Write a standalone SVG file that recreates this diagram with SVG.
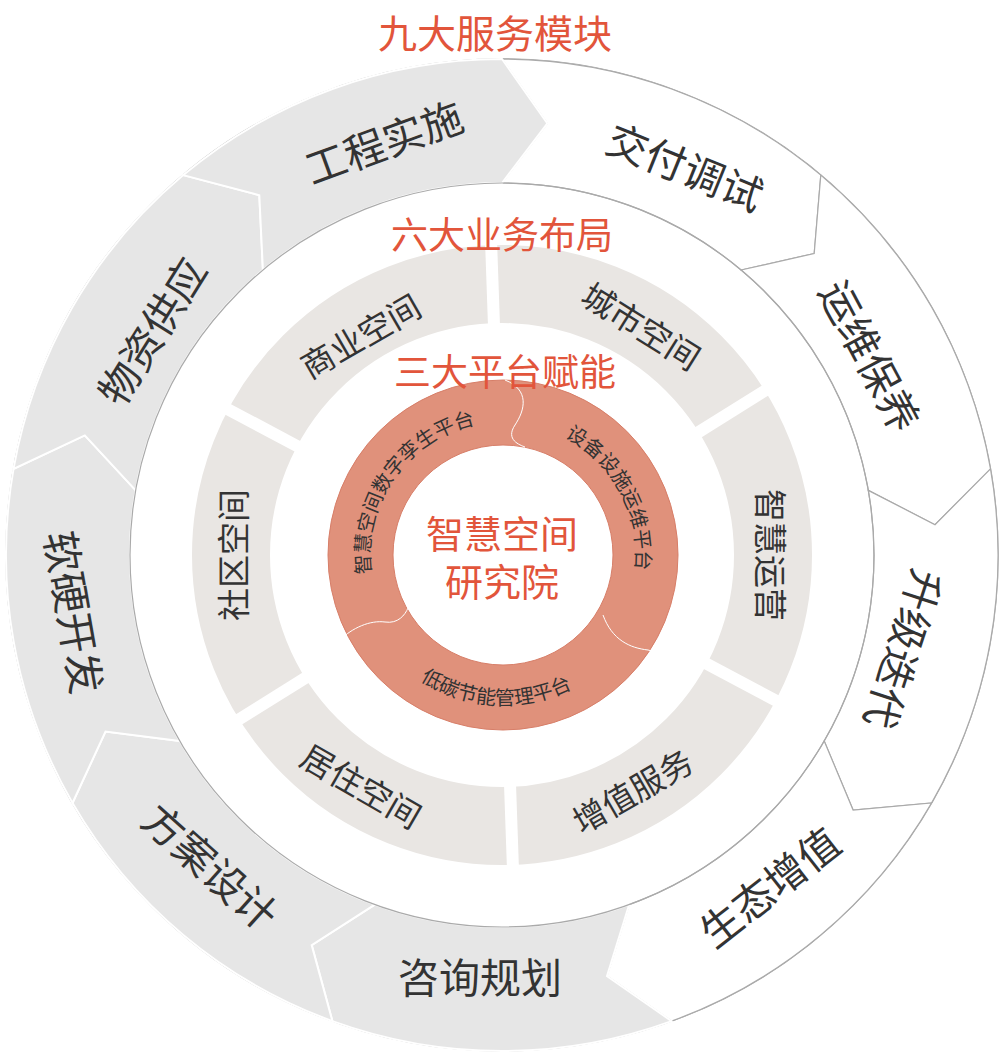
<svg xmlns="http://www.w3.org/2000/svg" width="1000" height="1055" viewBox="0 0 1000 1055">
<style>
.t{font-family:"Noto Sans CJK SC","Noto Sans",sans-serif;text-anchor:middle;dominant-baseline:central}
.ol{font-size:41px;fill:#333}
.ml{font-size:33px;fill:#333}
.pl{font-size:20px;fill:#333;font-family:"Noto Sans CJK SC",sans-serif}
.ti{fill:#e2553b}
.g{fill:#e6e6e6;stroke:#fff;stroke-width:2}
.w{fill:#fff;stroke:#aaa;stroke-width:1.2}
</style>
<defs>
<path id="pa" d="M401.1,640.5 A133,133 0 0 1 548.5,430"/>
<path id="pb" d="M473.1,425.4 A133,133 0 0 1 593.7,652.3"/>
<path id="pc" d="M356.3,586.2 A150,150 0 0 0 645.7,601.4"/>
</defs>
<rect width="1000" height="1055" fill="#fff"/>
<g id="outer">
<circle cx="502" cy="555" r="496" fill="#fff" stroke="#aaa" stroke-width="1.5"/>
<path id="s0" class="w" d="M502,183 L547.4,123.4 L502,59 A496,496 0 0 1 820.8,175.1 L814.2,253.5 L741.1,270 A372,372 0 0 0 502,183 Z"/>
<path id="s1" class="w" d="M741.1,270 L814.2,253.5 L820.8,175.1 A496,496 0 0 1 990.5,468.9 L935,524.7 L868.3,490.4 A372,372 0 0 0 741.1,270 Z"/>
<path id="s2" class="w" d="M868.3,490.4 L935,524.7 L990.5,468.9 A496,496 0 0 1 931.5,803 L853.1,810.1 L824.2,741 A372,372 0 0 0 868.3,490.4 Z"/>
<path id="s3" class="w" d="M824.2,741 L853.1,810.1 L931.5,803 A496,496 0 0 1 671.6,1021.1 L607,976.1 L629.2,904.6 A372,372 0 0 0 824.2,741 Z"/>
<path id="s4" class="g" d="M629.2,904.6 L607,976.1 L671.6,1021.1 A496,496 0 0 1 332.4,1021.1 L311.7,945.1 L374.8,904.6 A372,372 0 0 0 629.2,904.6 Z"/>
<path id="s5" class="g" d="M374.8,904.6 L311.7,945.1 L332.4,1021.1 A496,496 0 0 1 72.5,803 L105.5,731.5 L179.8,741 A372,372 0 0 0 374.8,904.6 Z"/>
<path id="s6" class="g" d="M179.8,741 L105.5,731.5 L72.5,803 A496,496 0 0 1 13.5,468.9 L84.8,435.4 L135.7,490.4 A372,372 0 0 0 179.8,741 Z"/>
<path id="s7" class="g" d="M135.7,490.4 L84.8,435.4 L13.5,468.9 A496,496 0 0 1 183.2,175.1 L259.3,195.2 L262.9,270 A372,372 0 0 0 135.7,490.4 Z"/>
<path id="s8" class="g" d="M262.9,270 L259.3,195.2 L183.2,175.1 A496,496 0 0 1 502,59 L547.4,123.4 L502,183 A372,372 0 0 0 262.9,270 Z"/>
<circle cx="502" cy="555" r="372" fill="none" stroke="#aaa" stroke-width="1.2"/>
<text class="t ol" transform="translate(383,140) rotate(-20)">工程实施</text>
<text class="t ol" transform="translate(686,165) rotate(22)">交付调试</text>
<text class="t ol" transform="translate(872,355) rotate(62)">运维保养</text>
<text class="t ol" transform="translate(906,650) rotate(108)">升级迭代</text>
<text class="t ol" transform="translate(768,885) rotate(-38)">生态增值</text>
<text class="t ol" transform="translate(480,975)">咨询规划</text>
<text class="t ol" transform="translate(212,865) rotate(42)">方案设计</text>
<text class="t ol" transform="translate(76,612) rotate(80)">软硬开发</text>
<text class="t ol" transform="translate(150,330) rotate(-58)">物资供应</text>
</g>
<g id="middle">
<circle cx="502" cy="555" r="271" fill="none" stroke="#e9e6e3" stroke-width="78"/>
<g stroke="#fff" stroke-width="12">
<line x1="502" y1="327" x2="502" y2="238" transform="rotate(-2,502,555)"/>
<line x1="502" y1="327" x2="502" y2="238" transform="rotate(58,502,555)"/>
<line x1="502" y1="327" x2="502" y2="238" transform="rotate(118,502,555)"/>
<line x1="502" y1="327" x2="502" y2="238" transform="rotate(178,502,555)"/>
<line x1="502" y1="327" x2="502" y2="238" transform="rotate(238,502,555)"/>
<line x1="502" y1="327" x2="502" y2="238" transform="rotate(298,502,555)"/>
</g>
<text class="t ml" transform="translate(360,335) rotate(-30)">商业空间</text>
<text class="t ml" transform="translate(642,325) rotate(32)">城市空间</text>
<text class="t ml" transform="translate(772,555) rotate(90)">智慧运营</text>
<text class="t ml" transform="translate(632,790) rotate(-30)">增值服务</text>
<text class="t ml" transform="translate(362,785) rotate(30)">居住空间</text>
<text class="t ml" transform="translate(232,555) rotate(-90)">社区空间</text>
</g>
<g id="platform">
<circle cx="503" cy="555" r="142.5" fill="none" stroke="#e0917b" stroke-width="65"/>
<circle cx="503" cy="555" r="175" fill="none" stroke="#d77e68" stroke-width="1"/>
<circle cx="503" cy="555" r="110" fill="none" stroke="#d77e68" stroke-width="1"/>
<g fill="none" stroke="#fff" stroke-width="1">
<path d="M505,380 C530,390 525,410 515,425 C505,440 520,445 525,447"/>
<path d="M603,615 C612,640 630,648 648,650 C660,652 668,662 670,668"/>
<path d="M340,640 C352,628 370,620 385,622 C398,624 405,615 408,608"/>
</g>
<text class="pl"><textPath href="#pa" startOffset="50%" text-anchor="middle">智慧空间数字孪生平台</textPath></text>
<text class="pl"><textPath href="#pb" startOffset="50%" text-anchor="middle">设备设施运维平台</textPath></text>
<text class="pl"><textPath href="#pc" startOffset="50%" text-anchor="middle">低碳节能管理平台</textPath></text>
</g>
<g id="titles">
<text class="t ti" x="495" y="31" font-size="39">九大服务模块</text>
<text class="t ti" x="502" y="233" font-size="37">六大业务布局</text>
<text class="t ti" x="505" y="370" font-size="37">三大平台赋能</text>
<text class="t ti" x="502" y="531" font-size="38">智慧空间</text>
<text class="t ti" x="502" y="579" font-size="38">研究院</text>
</g>
</svg>
